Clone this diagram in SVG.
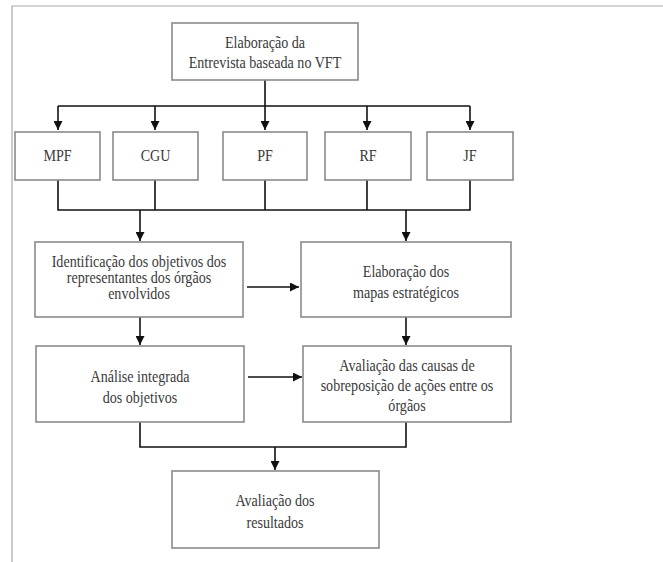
<svg xmlns="http://www.w3.org/2000/svg" width="663" height="562" viewBox="0 0 663 562">
<style>
.box{fill:#fff;stroke:#8a8a8a;stroke-width:1.6}
.t{font-family:"Liberation Serif","Times New Roman",serif;font-size:16px;fill:#3a3a3a;text-anchor:middle}
.c{fill:none;stroke:#111;stroke-width:1.6}
.frame{fill:none;stroke:#aaa;stroke-width:1.2}
</style>
<defs>
<marker id="ah" viewBox="0 0 10 10" refX="10" refY="5" markerWidth="9" markerHeight="9" markerUnits="userSpaceOnUse" orient="auto">
<path d="M0,0 L10,5 L0,10 z" fill="#111"/>
</marker>
</defs>
<rect width="663" height="562" fill="#fff"/>
<path class="frame" d="M12,562 V6 H663"/>
<g id="connectors">
<path class="c" d="M265,80 V106 M58,106 H470"/>
<path class="c" d="M58,106 V130" marker-end="url(#ah)"/>
<path class="c" d="M155,106 V130" marker-end="url(#ah)"/>
<path class="c" d="M265,106 V130" marker-end="url(#ah)"/>
<path class="c" d="M367,106 V130" marker-end="url(#ah)"/>
<path class="c" d="M470,106 V130" marker-end="url(#ah)"/>
<path class="c" d="M58,180 V210 H470 V180 M155,180 V210 M265,180 V210 M367,180 V210"/>
<path class="c" d="M140,210 V241" stroke-width="2.2" marker-end="url(#ah)"/>
<path class="c" d="M406,210 V241" marker-end="url(#ah)"/>
<path class="c" d="M247,287 H299" marker-end="url(#ah)"/>
<path class="c" d="M140,317 V345" marker-end="url(#ah)"/>
<path class="c" d="M406,317 V345" marker-end="url(#ah)"/>
<path class="c" d="M248,377 H302" marker-end="url(#ah)"/>
<path class="c" d="M140,422 V447 H406 V422 M275,447 V470" marker-end="url(#ah)"/>
</g>
<g id="n_top"><rect class="box" x="172" y="23" width="186" height="57"/>
<g transform="translate(265,0) scale(0.88,1)"><text class="t" x="0" y="48">Elaboração da</text><text class="t" x="0" y="68">Entrevista baseada no VFT</text></g></g>
<g id="n_mpf"><rect class="box" x="15" y="132" width="85" height="48"/><g transform="translate(57.5,0) scale(0.88,1)"><text class="t" x="0" y="161">MPF</text></g></g>
<g id="n_cgu"><rect class="box" x="113" y="132" width="85" height="48"/><g transform="translate(155.5,0) scale(0.88,1)"><text class="t" x="0" y="161">CGU</text></g></g>
<g id="n_pf"><rect class="box" x="223" y="132" width="84" height="48"/><g transform="translate(265,0) scale(0.88,1)"><text class="t" x="0" y="161">PF</text></g></g>
<g id="n_rf"><rect class="box" x="325" y="132" width="86" height="48"/><g transform="translate(368,0) scale(0.88,1)"><text class="t" x="0" y="161">RF</text></g></g>
<g id="n_jf"><rect class="box" x="427" y="132" width="86" height="48"/><g transform="translate(470,0) scale(0.88,1)"><text class="t" x="0" y="161">JF</text></g></g>
<g id="n_ident"><rect class="box" x="35" y="242" width="208" height="75"/>
<g transform="translate(139,0) scale(0.88,1)">
<text class="t" x="0" y="267">Identificação dos objetivos dos</text>
<text class="t" x="0" y="283">representantes dos órgãos</text>
<text class="t" x="0" y="299">envolvidos</text></g></g>
<g id="n_mapas"><rect class="box" x="301" y="242" width="210" height="75"/>
<g transform="translate(406,0) scale(0.88,1)">
<text class="t" x="0" y="277">Elaboração dos</text>
<text class="t" x="0" y="298">mapas estratégicos</text></g></g>
<g id="n_analise"><rect class="box" x="36" y="346" width="208" height="76"/>
<g transform="translate(140,0) scale(0.88,1)">
<text class="t" x="0" y="382">Análise integrada</text>
<text class="t" x="0" y="403">dos objetivos</text></g></g>
<g id="n_causas"><rect class="box" x="303" y="346" width="208" height="76"/>
<g transform="translate(407,0) scale(0.88,1)">
<text class="t" x="0" y="371">Avaliação das causas de</text>
<text class="t" x="0" y="391">sobreposição de ações entre os</text>
<text class="t" x="0" y="411">órgãos</text></g></g>
<g id="n_result"><rect class="box" x="172" y="471" width="207" height="77"/>
<g transform="translate(275,0) scale(0.88,1)">
<text class="t" x="0" y="506">Avaliação dos</text>
<text class="t" x="0" y="528">resultados</text></g></g>
</svg>
